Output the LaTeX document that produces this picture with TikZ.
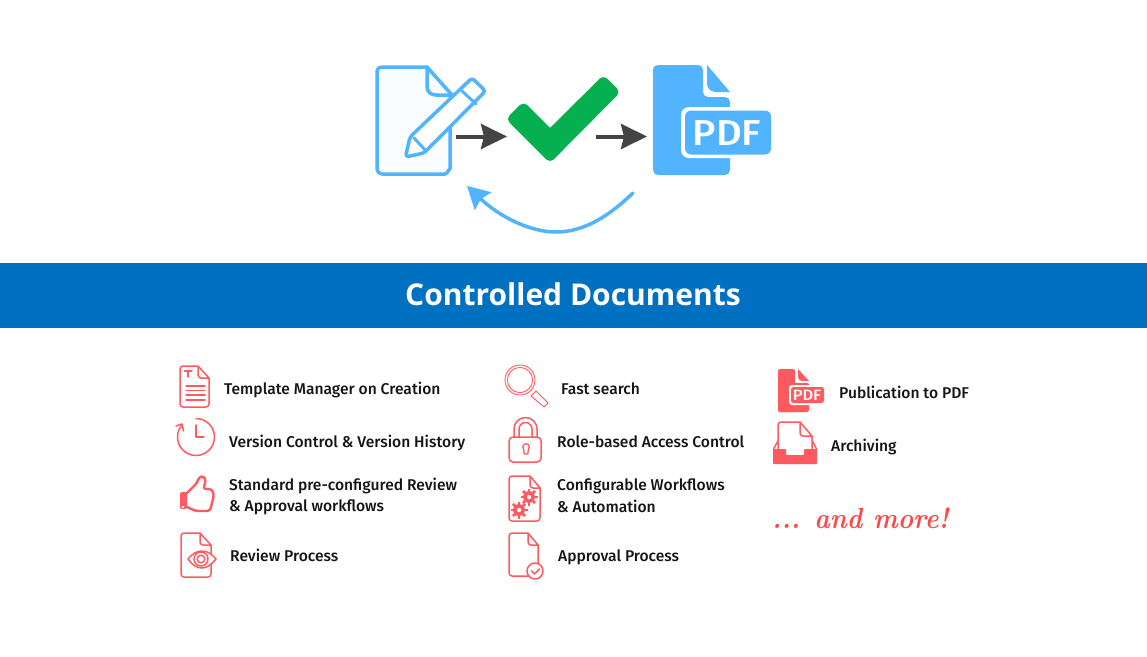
\documentclass[tikz,border=0pt]{standalone}
\usepackage{fontspec}
\usepackage{graphicx}
\newfontfamily\bodyf{Fira Sans Medium}
\newfontfamily\titlefont{Open Sans}
\newfontfamily\pdffont{Fira Sans Medium}
\usetikzlibrary{arrows.meta,calc}
\definecolor{skyb}{HTML}{52B4FF}
\definecolor{band}{HTML}{0070C0}
\definecolor{chk}{HTML}{06B050}
\definecolor{dk}{HTML}{444444}
\definecolor{rd}{HTML}{FF5A5F}
\definecolor{hand}{HTML}{FF4848}
\definecolor{lab}{HTML}{151515}
\tikzset{
 lbl/.style={anchor=base west,inner sep=0pt,text=lab,font=\bodyf\fontsize{15.6}{17}\selectfont},
 ic/.style={draw=rd,line width=1.5pt,line join=round,line cap=round},
 darrow/.style={draw=dk,line width=4pt,-{Stealth[length=26pt,width=25pt,inset=3pt,fill=dk]}},
 blueline/.style={draw=skyb,line width=3.5pt,line join=round,line cap=round}
}
\newcommand{\docpath}[6]{% x0 y0 x1 y1 foldx foldy
 (#5,#2) -- ({#1+3},#2) to[out=180,in=90] (#1,{#2+3}) -- (#1,{#4-3}) to[out=-90,in=180] ({#1+3},#4) -- ({#3-3},#4) to[out=0,in=-90] (#3,{#4-3}) -- (#3,#6) -- (#5,#2) -- (#5,{#6-3}) to[out=-90,in=180] ({#5+3},#6) -- (#3,#6)}
\newcommand{\gearicon}[3]{%
 \foreach \a in {0,45,...,315}{\draw[rd,line width=2.8pt] ($(#1,#2)+(\a:#3-1)$) -- ($(#1,#2)+(\a:#3+2)$);}
 \draw[rd,line width=3.6pt,fill=white] (#1,#2) circle[radius=#3-2.2];}
\begin{document}
\begin{tikzpicture}[x=1pt,y=-1pt]
\useasboundingbox (0,0) rectangle (1147,656);
\fill[white] (0,0) rectangle (1147,656);
% source document
\draw[blueline,fill=white!97!skyb] (450,125) -- (450,169) to[out=90,in=0] (445,174) -- (382,174) to[out=180,in=-90] (377,169) -- (377,71) to[out=90,in=180] (382,67) -- (427,67) -- (452,95);
\draw[blueline] (427,67) -- (427,87) to[out=-90,in=180] (436,95) -- (452,95);
\draw[blueline,fill=white,rounded corners=3pt] (405.5,157) -- (410,137) -- (472,78) -- (485.5,91) -- (424,153) -- cycle;
\draw[blueline,line width=3pt] (462,91) -- (476,104);
\draw[blueline,line width=3pt] (414,138) -- (426,151);
% check
\filldraw[chk,line width=10pt,line join=round] (550,156) -- (513,119) -- (523.5,108.5) -- (550,135) -- (603.5,82) -- (613.5,92) -- cycle;
\coordinate (srcout) at (456,136.5);
\coordinate (chkin) at (507,136.5);
\coordinate (chkout) at (596,136.5);
\coordinate (pdfin) at (647,136.5);
\draw[darrow] (srcout) -- (chkin);
\draw[darrow] (chkout) -- (pdfin);
% pdf document
\fill[skyb,rounded corners=5pt] (653,70) -- (653,175) -- (730,175) -- (730,97) -- (703,97) -- (703,65) -- (653,65) -- cycle;
\fill[skyb] (707,65) -- (730,92) -- (716,92) to[out=180,in=-90] (707,84) -- cycle;
\fill[white,rounded corners=8pt] (681,107) rectangle (772,158);
\fill[skyb,rounded corners=6pt] (685,110.5) rectangle (771,154.5);
\node[inner sep=0pt,text=white,font=\pdffont\fontsize{36}{36}\selectfont] (pdfword) at (727,133) {\scalebox{1.1}[1]{PDF}};
% return arrow
\coordinate (retstart) at (633,193);
\coordinate (retmid) at (556,232);
\coordinate (retend) at (467,186);
\draw[draw=skyb,line width=3.5pt,line cap=round,-{Stealth[length=22pt,width=24pt,inset=3pt,fill=skyb]}] (retstart) .. controls (610,215) and (585,232) .. (retmid) .. controls (530,232) and (500,217) .. (retend);
% band
\fill[band] (0,263) rectangle (1147,328);
\node[inner sep=0pt,text=white,font=\titlefont\bfseries\fontsize{30}{34}\selectfont] (title) at (573,294) {Controlled Documents};
% labels
\node[lbl] (l1) at (224,394) {Template Manager on Creation};
\node[lbl] (l2) at (229,447) {Version Control \& Version History};
\node[lbl] (l3) at (229,490) {Standard pre-configured Review};
\node[lbl] (l3b) at (229,511) {\& Approval workflows};
\node[lbl] (l4) at (230,561) {Review Process};
\node[lbl] (l5) at (561,394) {Fast search};
\node[lbl] (l6) at (557,447) {Role-based Access Control};
\node[lbl] (l7) at (557,490) {Configurable Workflows};
\node[lbl] (l7b) at (557,512) {\& Automation};
\node[lbl] (l8) at (558,561) {Approval Process};
\node[lbl] (l9) at (839,398) {Publication to PDF};
\node[lbl] (l10) at (831,451) {Archiving};
\node[anchor=base west,inner sep=0pt,text=hand,font=\bfseries\itshape\fontsize{29}{34}\selectfont] (more) at (772,528) {\scalebox{.9}[1]{... and more!}};
% template icon
\draw[ic] \docpath{180}{366}{209}{407}{198}{378};
\draw[ic] (186,386) -- (205,386) (186,390.5) -- (205,390.5) (186,395) -- (205,395) (186,400) -- (205,400);
\draw[ic] (184.5,371) -- (192,371) (188,371) -- (188,377);
% clock
\draw[ic] (196,418.5) arc[start angle=-90,delta angle=313,radius=18.5];
\draw[ic] (176,426) -- (182,424) -- (183.5,431);
\draw[ic] (196,425) -- (196,437) -- (204,437);
% thumb
\fill[rd,rounded corners=1.5pt] (180,492) rectangle (187,509);
\fill[white] (183,507) circle[radius=1.3];
\draw[ic,line width=2.4pt,rounded corners=3pt] (187,493) -- (197,483) -- (199,477) -- (204,476) -- (206,481) -- (203,489) -- (212,489) -- (214,495) -- (210,511) -- (196,511) -- (187,507);
% review doc
\draw[ic] \docpath{181}{533}{211}{577}{200}{545};
\draw[ic,fill=white] (188,559) .. controls (193,553) and (197,551) .. (202,551) .. controls (207,551) and (212,554) .. (216,559) .. controls (212,564) and (207,568) .. (202,568) .. controls (197,568) and (192,565) .. cycle;
\draw[ic] (201,559) circle[radius=7];
\draw[ic] (201,559) circle[radius=3.8];
% magnifier
\draw[rd,line width=.9pt] (520,380) circle[radius=15] (520,380) circle[radius=12.6];
\draw[rd,line width=.9pt,line join=round] (531,396) -- (536,391) -- (548,403) -- (544,407) -- cycle;
% lock
\draw[ic] (514,440) -- (514,429) arc[start angle=180,end angle=360,radius=11.5] -- (537,440);
\draw[ic] (519,437) -- (519,429) arc[start angle=180,end angle=360,radius=6.5] -- (532,437);
\draw[ic,fill=white,rounded corners=4pt] (509,437) rectangle (541,462);
\draw[ic,line width=1.3pt] (523.7,449.3) arc[start angle=135,delta angle=270,radius=3.3] -- (527.8,454) -- (524.2,454) -- cycle;
% gears doc
\draw[ic] \docpath{509}{476}{540}{521}{530}{488};
\gearicon{529}{497}{6.5}
\gearicon{519}{510}{6.5}
% approval doc
\draw[ic] \docpath{509}{533}{538}{576}{528}{545};
\draw[ic,fill=white] (535,571) circle[radius=8];
\draw[ic] (531.5,571) -- (534.5,574) -- (539.5,569);
% pdf small
\fill[rd,rounded corners=2pt] (778,369) rectangle (795,412);
\fill[rd,rounded corners=2pt] (778,383) rectangle (809,412);
\fill[rd] (798,369) -- (809,381) -- (802,381) to[out=180,in=-90] (798,377) -- cycle;
\fill[white,rounded corners=3pt] (789,385) rectangle (825,405);
\fill[rd,rounded corners=2.5pt] (791,387) rectangle (824,403);
\node[inner sep=0pt,text=white,font=\pdffont\fontsize{15}{15}\selectfont] (pdfsmall) at (807,395) {\scalebox{1.1}[1]{PDF}};
% archive
\draw[ic] \docpath{778}{422}{812}{458}{800}{436};
\fill[white] (776,449) rectangle (818,466);
\draw[ic] (773.5,449) -- (778.5,440) (816.5,449) -- (812,440);
\fill[rd,rounded corners=.8pt] (773,449) -- (786,449) -- (786,455) -- (804,455) -- (804,449) -- (817,449) -- (817,464) -- (773,464) -- cycle;
\end{tikzpicture}
\end{document}
